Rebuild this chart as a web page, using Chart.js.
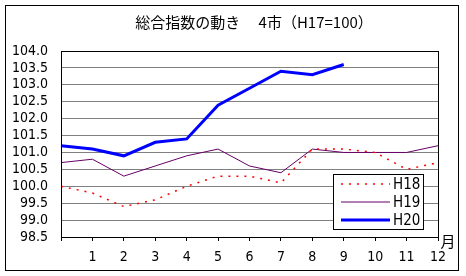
<!DOCTYPE html>
<html>
<head>
<meta charset="utf-8">
<script src="https://cdn.jsdelivr.net/npm/chart.js@4/dist/chart.umd.min.js"></script>
<style>
  html, body { margin: 0; padding: 0; background: #fff; }
  #wrap { width: 466px; height: 276px; position: relative; }
</style>
</head>
<body>
<div id="wrap"><canvas id="c" width="466" height="276"></canvas></div>
<script>
// 月（先頭は前年度末の基準点）
var months = ['', '1', '2', '3', '4', '5', '6', '7', '8', '9', '10', '11', '12'];
var h18 = [100.0, 99.8, 99.4, 99.6, 100.0, 100.3, 100.3, 100.1, 101.1, 101.1, 101.0, 100.5, 100.7];
var h19 = [100.7, 100.8, 100.3, 100.6, 100.9, 101.1, 100.6, 100.4, 101.1, 101.0, 101.0, 101.0, 101.2];
var h20 = [101.2, 101.1, 100.9, 101.3, 101.4, 102.4, 102.9, 103.4, 103.3, 103.6];
var yMin = 98.5, yMax = 104.0, yStep = 0.5;
var titleText = '総合指数の動き　 4市（H17=100）';

var tickFont = { family: '"Liberation Sans Narrow", "DejaVu Sans Condensed", sans-serif', size: 14 };

// 枠・タイトル・凡例・「月」
var decor = {
  id: 'decor',
  afterDraw: function (chart) {
    var ctx = chart.ctx, a = chart.chartArea;
    ctx.save();
    // 外枠
    ctx.strokeStyle = '#000';
    ctx.lineWidth = 1;
    ctx.strokeRect(5.5, 5.5, 453, 265);
    // プロットエリア枠
    ctx.strokeRect(Math.round(a.left) + 0.5, Math.round(a.top) + 0.5,
      Math.round(a.right - a.left), Math.round(a.bottom - a.top));
    // タイトル
    ctx.fillStyle = '#000';
    ctx.font = '15px "Noto Sans CJK JP", sans-serif';
    ctx.textAlign = 'center';
    ctx.textBaseline = 'middle';
    ctx.fillText(titleText, 254, 22);
    // 月
    ctx.fillText('月', 448, 241);
    // 凡例
    var lx = 333, ly = 174, lw = 90, lh = 55;
    ctx.fillStyle = '#fff';
    ctx.fillRect(lx, ly, lw, lh);
    ctx.strokeRect(lx + 0.5, ly + 0.5, lw, lh);
    chart.data.datasets.forEach(function (ds, i) {
      var y = ly + 10 + i * 18;
      ctx.beginPath();
      ctx.strokeStyle = ds.borderColor;
      ctx.lineWidth = ds.borderWidth;
      ctx.setLineDash(ds.borderDash || []);
      ctx.moveTo(lx + 8, y);
      ctx.lineTo(lx + 57, y);
      ctx.stroke();
      ctx.setLineDash([]);
      ctx.fillStyle = '#000';
      ctx.font = '15px ' + tickFont.family;
      ctx.textAlign = 'left';
      ctx.fillText(ds.label, lx + 60, y + 1);
    });
    ctx.restore();
  }
};

new Chart(document.getElementById('c'), {
  type: 'line',
  data: {
    labels: months,
    datasets: [
      { label: 'H18', data: h18, borderColor: '#ff0000', borderWidth: 1.5, borderDash: [2, 6], pointRadius: 0, fill: false, tension: 0 },
      { label: 'H19', data: h19, borderColor: '#660066', borderWidth: 1, pointRadius: 0, fill: false, tension: 0 },
      { label: 'H20', data: h20, borderColor: '#0000ff', borderWidth: 3, pointRadius: 0, fill: false, tension: 0 }
    ]
  },
  options: {
    responsive: false,
    animation: false,
    layout: { padding: { top: 51, right: 28, left: 0, bottom: 0 } },
    plugins: { legend: { display: false }, title: { display: false }, tooltip: { enabled: false } },
    scales: {
      x: {
        offset: false,
        grid: { display: true, drawOnChartArea: false, drawTicks: true, tickLength: 4, color: '#000' },
        border: { color: '#000' },
        ticks: { color: '#000', font: tickFont, padding: 8, maxRotation: 0, autoSkip: false },
        afterFit: function (s) { s.height = 39; }
      },
      y: {
        min: yMin, max: yMax,
        grid: { color: '#808080', drawTicks: false },
        border: { color: '#000' },
        ticks: {
          stepSize: yStep, color: '#000', font: tickFont, padding: 13, autoSkip: false,
          callback: function (v) { return v.toFixed(1); }
        },
        afterFit: function (s) { s.width = 61; }
      }
    }
  },
  plugins: [decor]
});
</script>
</body>
</html>
